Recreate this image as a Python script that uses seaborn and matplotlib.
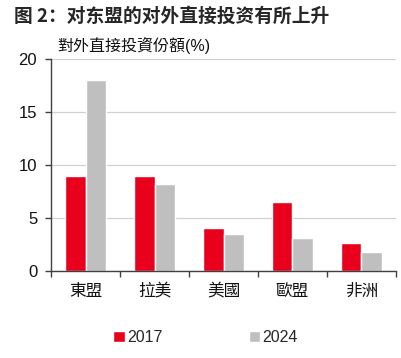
import pandas as pd
import matplotlib.pyplot as plt
import seaborn as sns
from matplotlib.ticker import FixedLocator

# Data
regions = ['東盟', '拉美', '美國', '歐盟', '非洲']
share_2017 = [9.0, 9.0, 4.1, 6.5, 2.6]
share_2024 = [18.0, 8.2, 3.5, 3.1, 1.8]
years = ['2017', '2024']

df = pd.DataFrame({
    'region': regions * 2,
    'year': [years[0]] * len(regions) + [years[1]] * len(regions),
    'share': share_2017 + share_2024,
})

sns.set_theme(style="white")
plt.rcParams['font.family'] = ['Liberation Sans', 'Noto Sans CJK TC', 'DejaVu Sans']

fig = plt.figure(figsize=(4.02, 3.58), dpi=100)
ax = fig.add_axes([0.127, 0.243, 0.858, 0.592])

sns.barplot(data=df, x='region', y='share', hue='year', order=regions,
            palette={'2017': '#E8001C', '2024': '#BFBFBF'},
            width=0.6, gap=0, saturation=1, ax=ax, legend=True)

ax.set_ylim(0, 20)
ax.set_xlim(-0.5, 4.5)
ax.set_yticks([0, 5, 10, 15, 20])
ax.yaxis.grid(True, color='#D0D0D0', linewidth=0.9)
ax.set_axisbelow(True)
ax.set_xlabel('')
ax.set_ylabel('')

for side in ['top', 'right']:
    ax.spines[side].set_visible(False)
for side in ['left', 'bottom']:
    ax.spines[side].set_color('#404040')
    ax.spines[side].set_linewidth(1.0)

ax.tick_params(axis='y', left=True, length=4, width=1, color='#404040',
               labelsize=12, labelcolor='#111111', pad=6)
ax.tick_params(axis='x', bottom=False, labelsize=12, labelcolor='#111111', pad=3)
ax.xaxis.set_minor_locator(FixedLocator([-0.5, 0.5, 1.5, 2.5, 3.5, 4.5]))
ax.tick_params(axis='x', which='minor', bottom=True, length=4, width=1, color='#404040')

# Legend at the bottom
h, l = ax.get_legend_handles_labels()
ax.legend(h, l, loc='upper center', bbox_to_anchor=(0.448, -0.21), ncol=2,
          frameon=False, fontsize=11.5, handlelength=0.7, handleheight=0.7,
          handletextpad=0.15, columnspacing=5.4)

fig.text(0.035, 0.955, '图 2：对东盟的对外直接投资有所上升', fontsize=13.5,
         fontweight='bold', family=['Noto Sans CJK SC', 'DejaVu Sans'],
         va='center', ha='left')
fig.text(0.142, 0.874, '對外直接投資份額(%)', fontsize=11.5,
         va='center', ha='left', color='#111111')

fig.savefig('out.png', dpi=100)
